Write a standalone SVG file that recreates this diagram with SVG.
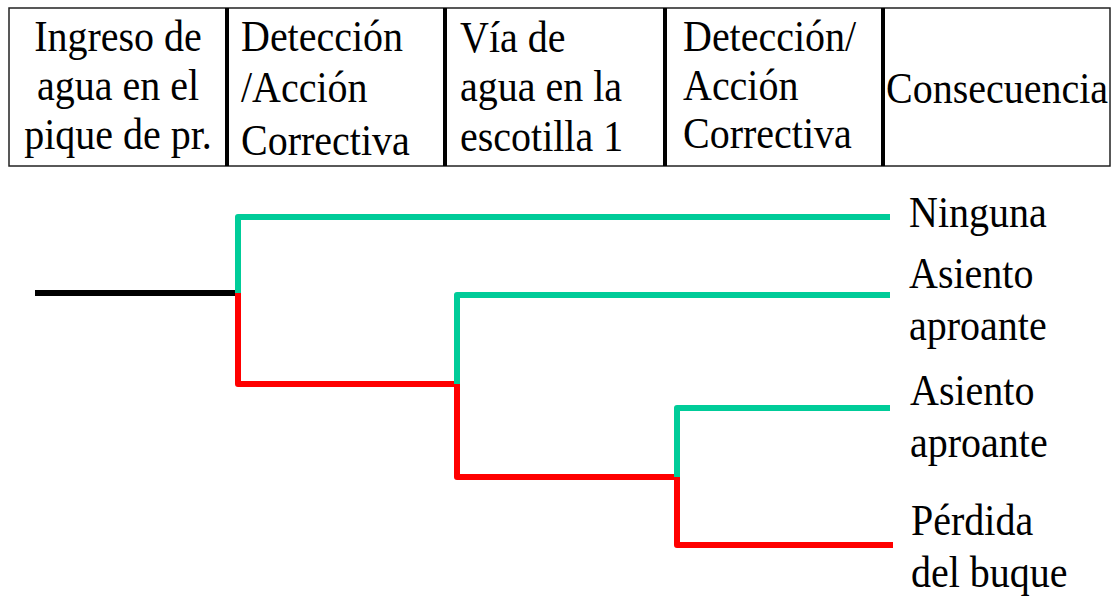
<svg xmlns="http://www.w3.org/2000/svg" width="1111" height="596" viewBox="0 0 1111 596">
  <style>
    text { font-family: "Liberation Serif", "Times New Roman", serif; font-size: 40px; fill: #000; }
    .mid { text-anchor: middle; }
    .cell { fill: #fff; stroke: #222; stroke-width: 1.5; }
    .div { stroke: #000; stroke-width: 4; }
    .br { fill: none; stroke-width: 6; stroke-linejoin: round; stroke-linecap: butt; }
    .g { stroke: #00CC99; }
    .r { stroke: #FF0000; }
    .k { stroke: #000; }
  </style>
  <rect width="1111" height="596" fill="#fff"/>

  <g id="header">
    <rect class="cell" x="9" y="8" width="1101" height="158"/>
    <line class="div" x1="227" y1="8" x2="227" y2="166"/>
    <line class="div" x1="445" y1="8" x2="445" y2="166"/>
    <line class="div" x1="665" y1="8" x2="665" y2="166"/>
    <line class="div" x1="883" y1="8" x2="883" y2="166"/>
  </g>

  <g id="col1">
    <text class="mid" transform="translate(118 51) scale(1 1.1)">Ingreso de</text>
    <text class="mid" transform="translate(118 100) scale(1 1.1)">agua en el</text>
    <text class="mid" transform="translate(118 149) scale(1 1.1)">pique de pr.</text>
  </g>
  <g id="col2">
    <text transform="translate(241 51) scale(1 1.1)">Detección</text>
    <text transform="translate(241 102) scale(1 1.1)">/Acción</text>
    <text transform="translate(241 155) scale(1 1.1)">Correctiva</text>
  </g>
  <g id="col3">
    <text transform="translate(460 52) scale(1 1.1)">Vía de</text>
    <text transform="translate(460 101) scale(1 1.1)">agua en la</text>
    <text transform="translate(460 151) scale(1 1.1)">escotilla 1</text>
  </g>
  <g id="col4">
    <text transform="translate(683 51) scale(1 1.1)">Detección/</text>
    <text transform="translate(683 100) scale(1 1.1)">Acción</text>
    <text transform="translate(683 148) scale(1 1.1)">Correctiva</text>
  </g>
  <g id="col5">
    <text transform="translate(886 103) scale(1 1.1)">Consecuencia</text>
  </g>

  <g id="connectors">
    <path class="br k" d="M35,293 H238"/>
    <path class="br g" d="M238,293 V217 H890"/>
    <path class="br r" d="M238,293 V384 H457"/>
    <path class="br g" d="M457,384 V295 H890"/>
    <path class="br r" d="M457,384 V477 H677"/>
    <path class="br g" d="M677,477 V408 H890"/>
    <path class="br r" d="M677,477 V545 H893"/>
  </g>

  <g id="out-ninguna">
    <text transform="translate(909 227) scale(1 1.1)">Ninguna</text>
  </g>
  <g id="out-asiento1">
    <text transform="translate(909 288) scale(1 1.1)">Asiento</text>
    <text transform="translate(909 340) scale(1 1.1)">aproante</text>
  </g>
  <g id="out-asiento2">
    <text transform="translate(910 405) scale(1 1.1)">Asiento</text>
    <text transform="translate(910 457) scale(1 1.1)">aproante</text>
  </g>
  <g id="out-perdida">
    <text transform="translate(911 535) scale(1 1.1)">Pérdida</text>
    <text transform="translate(911 587) scale(1 1.1)">del buque</text>
  </g>
</svg>
